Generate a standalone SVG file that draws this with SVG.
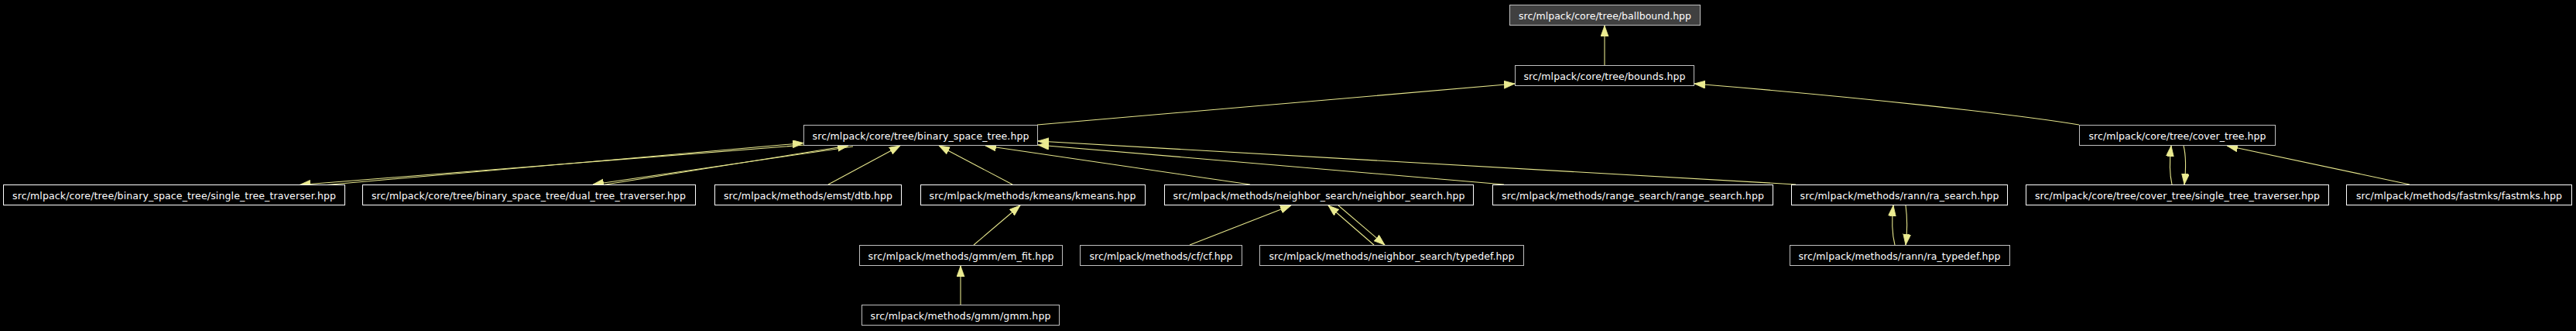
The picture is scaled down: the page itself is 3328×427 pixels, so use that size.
<svg xmlns="http://www.w3.org/2000/svg" width="3328" height="427" viewBox="0 0 3328 427">
<defs>
<style>
.n rect{fill:#000;stroke:#ffffff;stroke-width:1}
.n.g rect{stroke:#bfbfbf}
.n.root rect{fill:#404040;stroke:#bfbfbf}
.n text{font-family:"DejaVu Sans","Liberation Sans",sans-serif;font-size:12.5px;fill:#fff;text-anchor:middle}
.e path{fill:none;stroke:#e6e68c;stroke-width:1.1}
</style>
<marker id="ah" markerUnits="userSpaceOnUse" markerWidth="15" markerHeight="11" refX="14" refY="5" orient="auto">
<path d="M0,0 L14,5 L0,10 Z" fill="#ebeb91" stroke="#ebeb91" stroke-width="0.8"/>
</marker>
</defs>
<rect x="0" y="0" width="3328" height="427" fill="#000"/>
<g id="edges" class="e">
<path marker-end="url(#ah)" d="M2073,84 L2073,33"/>
<path marker-end="url(#ah)" d="M1340,161 L1957,108"/>
<path marker-end="url(#ah)" d="M2686,161 C2600,147 2400,125 2189,108"/>
<path marker-end="url(#ah)" d="M405,240 L1038,184.5"/>
<path marker-end="url(#ah)" d="M1040,187 L387,238.5"/>
<path marker-end="url(#ah)" d="M770,240 L1096,188"/>
<path marker-end="url(#ah)" d="M1102,189 L766,238"/>
<path marker-end="url(#ah)" d="M1070,238 L1163,188"/>
<path marker-end="url(#ah)" d="M1308,238 L1213,188"/>
<path marker-end="url(#ah)" d="M1615,238 L1273,188"/>
<path marker-end="url(#ah)" d="M1943,238 L1341,187"/>
<path marker-end="url(#ah)" d="M2320,238 L1341,182"/>
<path marker-end="url(#ah)" d="M2806,238 C2803,225 2803,205 2805,188"/>
<path marker-end="url(#ah)" d="M2821,188 C2824,200 2824,220 2822,238"/>
<path marker-end="url(#ah)" d="M3113,238 L2877,188"/>
<path marker-end="url(#ah)" d="M1258,316 L1318,265"/>
<path marker-end="url(#ah)" d="M1537,316 L1668,265"/>
<path marker-end="url(#ah)" d="M1775,316 L1716,265"/>
<path marker-end="url(#ah)" d="M1729,265 L1789,316"/>
<path marker-end="url(#ah)" d="M1241,393 L1241,343"/>
<path marker-end="url(#ah)" d="M2448,316 C2444,300 2444,282 2446,265"/>
<path marker-end="url(#ah)" d="M2462,265 C2464,280 2464,300 2462,316"/>
</g>
<g id="n_ballbound" class="n root"><rect x="1950.5" y="6.5" width="246" height="26"/><text x="2073.5" y="24.5" textLength="223">src/mlpack/core/tree/ballbound.hpp</text></g>
<g id="n_bounds" class="n g"><rect x="1957.5" y="84.5" width="231" height="26"/><text x="2073" y="102.5" textLength="209">src/mlpack/core/tree/bounds.hpp</text></g>
<g id="n_bst" class="n g"><rect x="1038.5" y="161.5" width="302" height="26"/><text x="1189.5" y="179.5" textLength="280">src/mlpack/core/tree/binary_space_tree.hpp</text></g>
<g id="n_cover_tree" class="n g"><rect x="2686.5" y="161.5" width="253" height="26"/><text x="2813" y="179.5" textLength="229">src/mlpack/core/tree/cover_tree.hpp</text></g>
<g id="n_bst_single" class="n"><rect x="4.5" y="238.5" width="441" height="26"/><text x="225" y="256.5" textLength="418">src/mlpack/core/tree/binary_space_tree/single_tree_traverser.hpp</text></g>
<g id="n_bst_dual" class="n"><rect x="468.5" y="238.5" width="430" height="26"/><text x="683" y="256.5" textLength="406">src/mlpack/core/tree/binary_space_tree/dual_tree_traverser.hpp</text></g>
<g id="n_dtb" class="n"><rect x="923.5" y="238.5" width="241" height="26"/><text x="1044" y="256.5" textLength="218">src/mlpack/methods/emst/dtb.hpp</text></g>
<g id="n_kmeans" class="n"><rect x="1189.5" y="238.5" width="290" height="26"/><text x="1334" y="256.5" textLength="267">src/mlpack/methods/kmeans/kmeans.hpp</text></g>
<g id="n_neighbor_search" class="n"><rect x="1504.5" y="238.5" width="399" height="26"/><text x="1704" y="256.5" textLength="377">src/mlpack/methods/neighbor_search/neighbor_search.hpp</text></g>
<g id="n_range_search" class="n"><rect x="1928.5" y="238.5" width="362" height="26"/><text x="2109.5" y="256.5" textLength="339">src/mlpack/methods/range_search/range_search.hpp</text></g>
<g id="n_ra_search" class="n"><rect x="2314.5" y="238.5" width="279" height="26"/><text x="2454" y="256.5" textLength="257">src/mlpack/methods/rann/ra_search.hpp</text></g>
<g id="n_cover_single" class="n"><rect x="2617.5" y="238.5" width="391" height="26"/><text x="2813" y="256.5" textLength="368">src/mlpack/core/tree/cover_tree/single_tree_traverser.hpp</text></g>
<g id="n_fastmks" class="n"><rect x="3031.5" y="238.5" width="291" height="26"/><text x="3177" y="256.5" textLength="266">src/mlpack/methods/fastmks/fastmks.hpp</text></g>
<g id="n_em_fit" class="n g"><rect x="1110.5" y="316.5" width="262" height="26"/><text x="1241.5" y="334.5" textLength="240">src/mlpack/methods/gmm/em_fit.hpp</text></g>
<g id="n_cf" class="n g"><rect x="1395.5" y="316.5" width="209" height="26"/><text x="1500" y="334.5" textLength="185">src/mlpack/methods/cf/cf.hpp</text></g>
<g id="n_ns_typedef" class="n g"><rect x="1627.5" y="316.5" width="341" height="26"/><text x="1798" y="334.5" textLength="317">src/mlpack/methods/neighbor_search/typedef.hpp</text></g>
<g id="n_ra_typedef" class="n g"><rect x="2312.5" y="316.5" width="284" height="26"/><text x="2454" y="334.5" textLength="261">src/mlpack/methods/rann/ra_typedef.hpp</text></g>
<g id="n_gmm" class="n g"><rect x="1113.5" y="393.5" width="255" height="26"/><text x="1241" y="411.5" textLength="233">src/mlpack/methods/gmm/gmm.hpp</text></g>
</svg>
